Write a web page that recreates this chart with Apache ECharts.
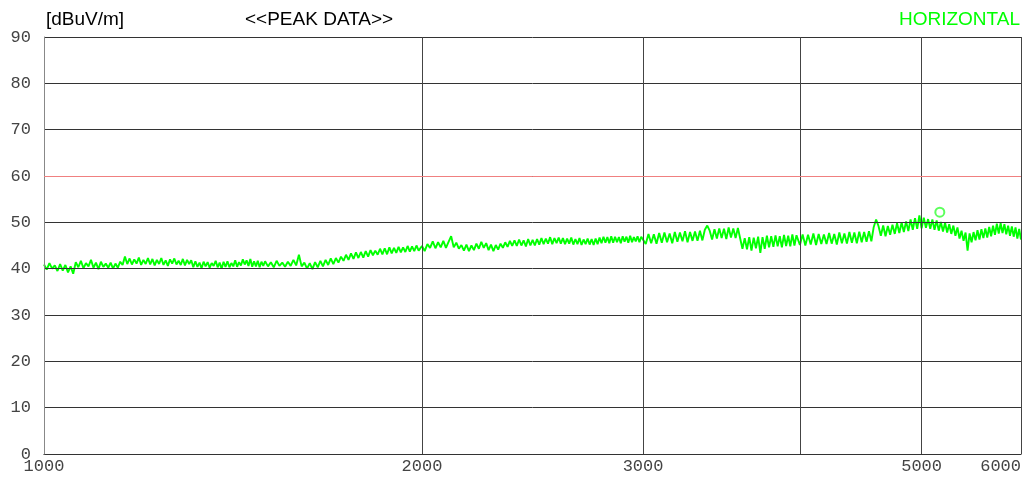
<!DOCTYPE html>
<html><head><meta charset="utf-8">
<script src="https://cdn.jsdelivr.net/npm/echarts@6/dist/echarts.min.js"></script>
<style>html,body{margin:0;padding:0;background:#fff}#c{width:1027px;height:486px}</style>
</head><body><div id="c"></div>
<script>
// ---- data ----
const yTicks = [0,10,20,30,40,50,60,70,80,90];
const xGridFreqs = [2000,3000,4000,5000,6000];
const xLabelFreqs = [1000,2000,3000,5000,6000];
const limitLevel = 60;
const peakMarker = [5170, 52.2];
const titleUnit = '[dBuV/m]';
const titleMain = '<<PEAK DATA>>';
const titlePol = 'HORIZONTAL';

// sweep sub-bands: [start MHz, step MHz] and levels in dBuV/m
const band1 = [1000, 5];
const lv1 = [40.9,39.8,41.2,40.0,40.7,39.5,41.0,
  39.6,40.8,39.2,40.5,38.9,
  41.4,40.3,41.7,40.1,41.2,40.5,41.9,40.2,41.3,39.9,41.5,40.4,41.1,40.2,
  41.3,40.0,41.1,40.2,41.5,
  40.8,42.6,41.0,42.2,40.9,42.0,41.1,42.4,40.8,41.9,41.0,42.3,
  40.9,42.1,40.7,41.9,41.0,42.3,40.8,41.8,40.6,42.0,41.1,42.2,40.9,41.7,40.8,42.1,40.7,41.9,41.0,41.8,
  40.3,41.6,40.4,41.3,40.1,41.5,40.5,41.4,40.2,41.2,40.6,41.7,40.3,41.3,40.0,41.5,40.4,41.6,40.3,41.2,40.5,41.8,40.4,41.4,
  40.7,42.0,40.9,41.8,40.6,42.1,
  40.4,41.6,40.5,41.7,40.3,41.5,40.6];
const band2 = [1500, 8];
const lv2 = [41.6,40.5,41.4,40.3,41.7,40.6,41.3,40.4,41.5,
  40.6,41.9,40.7,43.0,40.5,
  41.3,40.0,41.2,39.9,41.4,40.3,
  41.7,40.5,41.9,40.8,42.2,
  41.0,42.3,41.3,42.6,41.7,43.0,41.9,
  43.3,42.1,43.5,42.3,43.6,
  42.4,43.8,42.6,44.0,42.9,43.9,43.0,44.3,43.1,
  44.4,43.1,44.6,43.3,
  44.5,43.4,44.7,43.5,44.6,43.6,44.9,43.7,44.8,43.8,45.0,43.9];
const band3 = [2000, 10];
const lv3 = [44.9,43.8,45.3,
  44.5,45.9,44.4,45.7,44.6,46.0,44.5,45.8,
  47.0,44.6,45.6,44.3,
  45.1,43.9,45.2,43.8,45.0,
  44.0,45.4,44.3,45.8,44.5,
  45.5,44.0,45.2,43.8,
  45.1,44.1,45.4,44.5,45.7,44.7,46.0,44.9,46.1,
  44.9,46.3,45.0,46.1,44.8,46.4,45.0,
  46.2,45.0,46.4,45.2,46.6,45.3,46.5,45.4,46.8,45.3,46.6,45.5,46.7,
  45.4,46.6,45.3,46.5,45.4,46.7,45.2,46.4,45.3,46.6,45.1,46.3,45.3,46.5,45.2,46.4,45.1,
  46.5,45.3,46.7,45.5,46.9,45.6,46.8,45.5,47.0,
  45.6,46.9,45.7,46.8,45.5,47.0,45.8,46.9,45.6,47.1,45.7,46.8,45.9,47.0,45.7,46.9];
const band4 = [3000, 15];
const lv4 = [47.3,45.3,47.5,45.5,47.4,45.4,47.7,
  45.6,47.8,45.7,47.6,45.5,47.9,45.8,47.8,45.9,48.1,45.7,47.9,46.0,48.0,
  46.0,48.2,46.1,48.4,49.3,48.2,46.3,
  48.5,46.5,48.7,46.6,48.6,46.4,48.9,46.7,48.7,46.6,48.8,46.5,
  44.3,46.6,44.2,46.8,43.9,46.7,44.4,
  46.9,43.4,46.8,44.3,47.1,44.6,47.0,
  44.7,47.2,44.8,47.0,44.6,47.3,44.9,47.1,44.8,47.4,45.0,47.2];
const band5 = [4000, 20];
const lv5 = [45.1,47.4,45.0,47.3,45.2,47.6,45.1,47.5,45.3,47.4,
  45.3,47.7,45.4,47.5,45.2,47.8,45.5,47.6,45.4,47.9,
  45.6,47.8,45.5,48.0,45.7,47.9,45.8,48.1,45.9,
  49.0,50.6,49.2,47.1,49.3,47.0,49.2,
  47.3,49.5,47.5,49.8,47.7,50.0,47.9,
  50.2,48.1,50.6,48.4,50.9,48.6,51.5];
const band6 = [5000, 20];
const lv6 = [48.7,51.0,48.8,50.7,48.6,50.6,
  48.4,50.4,48.2,50.1,48.0,
  49.9,47.8,49.6,47.5,49.3,
  47.1,48.9,46.5,48.2,46.0,
  47.8,43.9,47.6,45.7,47.9,
  46.1,48.3,46.3,48.5,46.6,
  48.7,46.7,49.0,47.0,49.3,47.3,49.7,47.6,49.8,47.7,
  49.6,47.4,49.3,47.1,49.1,
  46.9,48.9,46.5,48.6,46.3];

// ---- build ----
const trace = [];
[[band1,lv1],[band2,lv2],[band3,lv3],[band4,lv4],[band5,lv5],[band6,lv6]].forEach(([b,lv])=>{
  lv.forEach((v,i)=>trace.push([b[0]+i*b[1], v]));
});

const tickFont = '"Liberation Mono", "DejaVu Sans Mono", monospace';
const titleFont = '"Liberation Sans", Arial, sans-serif';

const vLines = xGridFreqs.map(f=>{
  const hasLabel = xLabelFreqs.indexOf(f) >= 0;
  return {
    xAxis: f,
    lineStyle: {color: '#444', width: 1, type: 'solid'},
    label: hasLabel ? {
      show: true, position: 'start', distance: 4,
      formatter: String(f),
      color: '#444', fontFamily: tickFont, fontSize: 17,
      align: f === 6000 ? 'right' : 'center'
    } : {show: false}
  };
});

const chart = echarts.init(document.getElementById('c'), null, {renderer: 'canvas'});
chart.setOption({
  animation: false,
  backgroundColor: '#fff',
  title: [
    {text: titleUnit, left: 41, top: 5, textStyle: {fontFamily: titleFont, fontSize: 19, fontWeight: 'normal', color: '#000'}},
    {text: titleMain, left: 240, top: 5, textStyle: {fontFamily: titleFont, fontSize: 19, fontWeight: 'normal', color: '#000'}},
    {text: titlePol, right: 2, top: 5, textStyle: {fontFamily: titleFont, fontSize: 19, fontWeight: 'normal', color: '#00ff00'}}
  ],
  grid: {left: 44, right: 6, top: 37, bottom: 32, containLabel: false},
  xAxis: {
    type: 'log', logBase: 10, min: 1000, max: 6000,
    axisLine: {show: true, lineStyle: {color: '#000', width: 1}},
    axisTick: {show: false},
    splitLine: {show: false},
    axisLabel: {show: true, margin: 4, color: '#444', fontFamily: tickFont, fontSize: 17,
      formatter: v => String(Math.round(v)), showMaxLabel: false}
  },
  yAxis: {
    type: 'value', min: yTicks[0], max: yTicks[yTicks.length-1], interval: 10, z: 3,
    axisLine: {show: true, lineStyle: {color: '#888', width: 1}},
    axisTick: {show: false},
    splitLine: {show: true, lineStyle: {color: '#333', width: 1}},
    axisLabel: {margin: 13, color: '#444', fontFamily: tickFont, fontSize: 17}
  },
  series: [
    {
      type: 'line', data: trace, showSymbol: false, symbol: 'none',
      lineStyle: {color: '#00ff00', width: 1.9}, itemStyle: {color: '#00ff00'},
      z: 2,
      markLine: {
        silent: true, symbol: ['none','none'], animation: false,
        data: vLines.concat([{yAxis: limitLevel, lineStyle: {color: '#f08080', width: 1, type: 'solid'}, label: {show: false}}])
      }
    },
    {
      type: 'scatter', data: [peakMarker], symbol: 'emptyCircle', symbolSize: 9, z: 6,
      itemStyle: {color: '#33ff33', borderColor: '#33ff33', borderWidth: 1.2}
    }
  ]
});
</script></body></html>
